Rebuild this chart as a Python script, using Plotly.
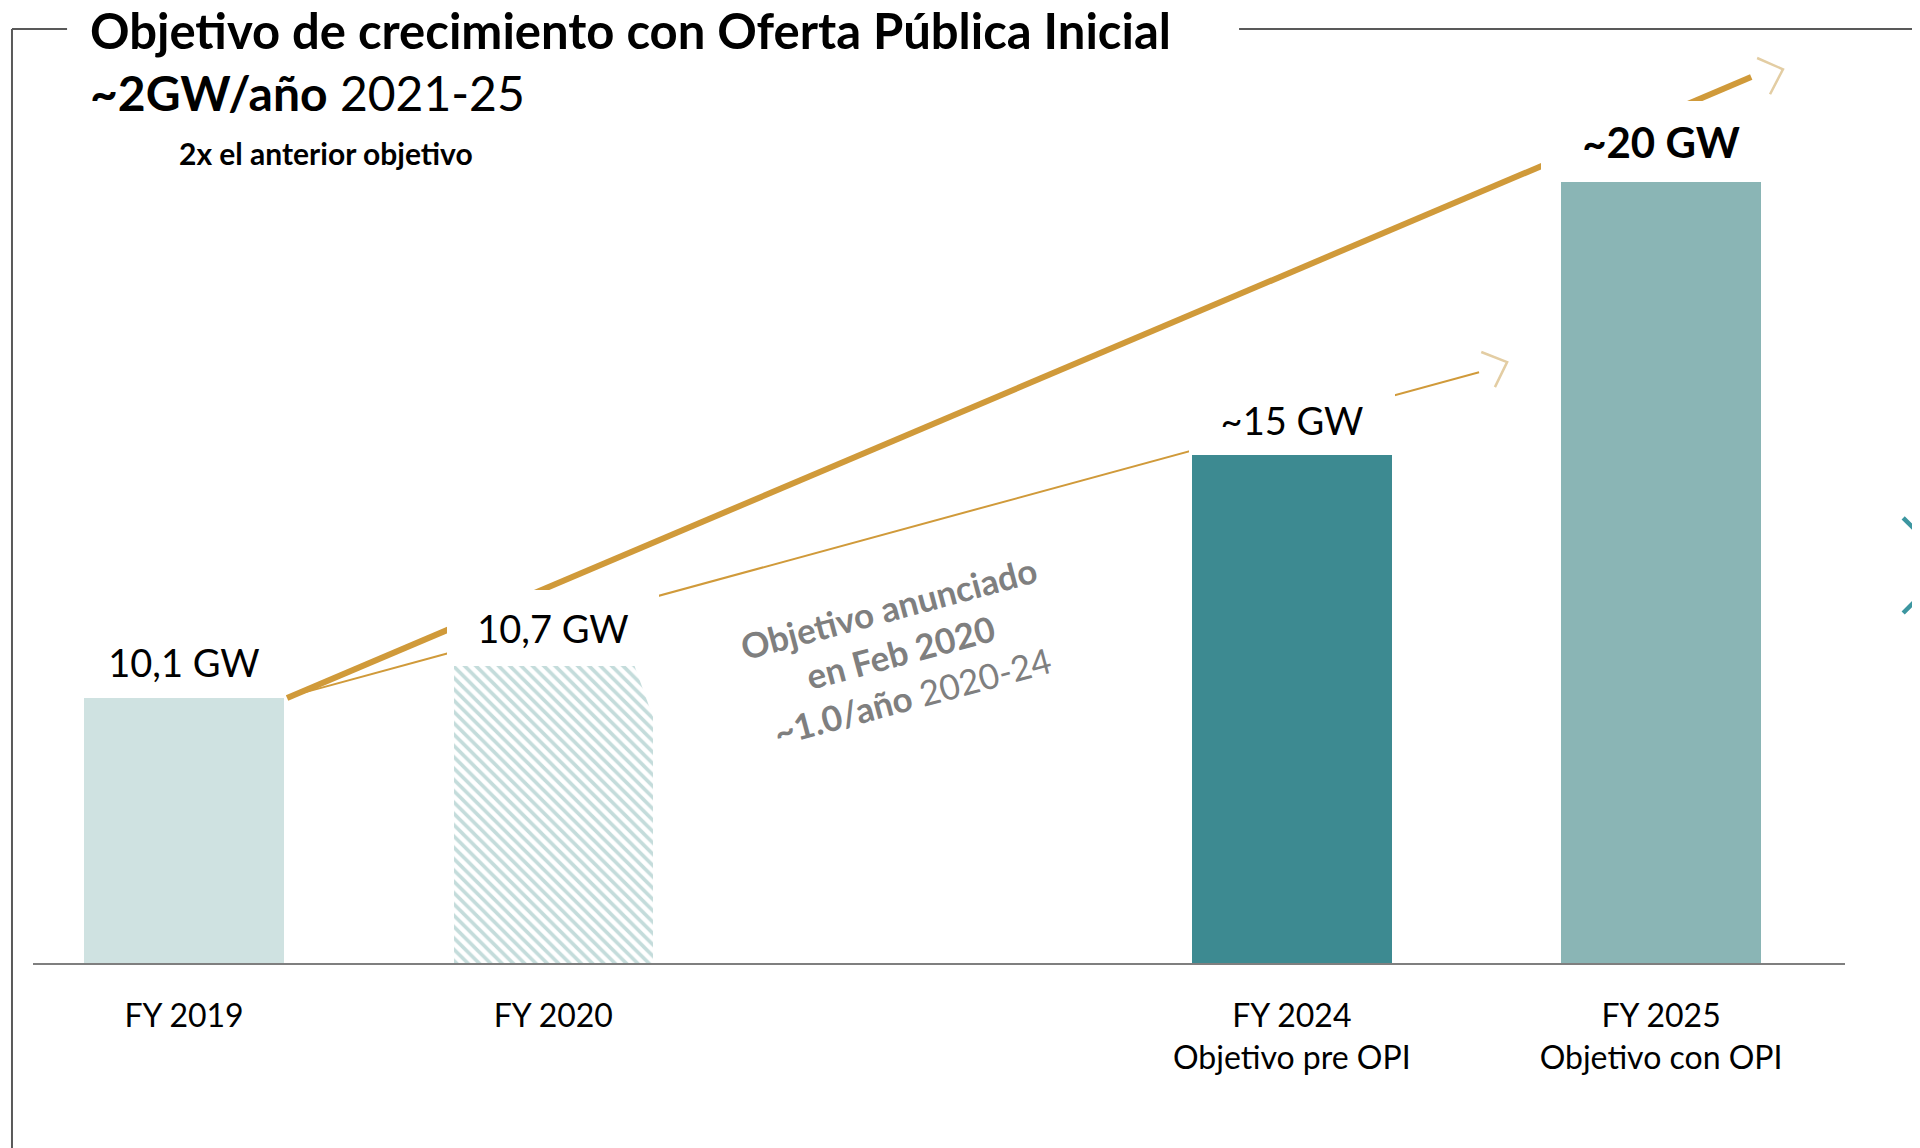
import plotly.graph_objects as go

# ---------------- data ----------------
categories = ["FY 2019", "FY 2020", "FY 2024<br>Objetivo pre OPI", "FY 2025<br>Objetivo con OPI"]
slots = [0, 1, 3, 4]                       # empty slot between FY 2020 and FY 2024
bar_heights = [6.79, 7.61, 13.01, 20.0]    # drawn (visual) heights
value_labels = ["10,1 GW", "10,7 GW", "~15 GW", "<b>~20 GW</b>"]
label_sizes = [38, 38, 38, 42]
bar_colors = ["#CFE2E1", "#C4DCDB", "#3D8A91", "#8AB5B5"]
hatched = [False, True, False, False]

# growth trend arrows (data units of the chart)
ipo_line_x = [0.279, 4.244]
ipo_line_y = [6.79, 22.69]
pre_line_x = [0.279, 3.507]
pre_line_y = [6.81, 15.13]
ipo_head_x = [4.260, 4.330, 4.295]
ipo_head_y = [23.18, 22.89, 22.25]
pre_head_x = [3.513, 3.583, 3.550]
pre_head_y = [15.65, 15.39, 14.75]

# ---------------- style ----------------
FONT = "Lato"
GOLD = "#D09A3A"
TAN = "#E3CDA3"
BAR_W = 0.54
label_box_w = [180, 212, 206, 240]
label_box_h = [72, 76, 70, 81]

fig = go.Figure()

# trend lines (drawn below label boxes)
fig.add_trace(go.Scatter(x=ipo_line_x, y=ipo_line_y, mode="lines",
                         line=dict(color=GOLD, width=6), hoverinfo="skip", showlegend=False))
fig.add_trace(go.Scatter(x=pre_line_x, y=pre_line_y, mode="lines",
                         line=dict(color=GOLD, width=2), hoverinfo="skip", showlegend=False))
fig.add_trace(go.Scatter(x=ipo_head_x, y=ipo_head_y, mode="lines",
                         line=dict(color=TAN, width=2.5), hoverinfo="skip", showlegend=False))
fig.add_trace(go.Scatter(x=pre_head_x, y=pre_head_y, mode="lines",
                         line=dict(color=TAN, width=2.5), hoverinfo="skip", showlegend=False))

# bars: solid ones, then the hatched one
solid_x = [s for s, h in zip(slots, hatched) if not h]
solid_y = [v for v, h in zip(bar_heights, hatched) if not h]
solid_c = [c for c, h in zip(bar_colors, hatched) if not h]
hatch_x = [s for s, h in zip(slots, hatched) if h]
hatch_y = [v for v, h in zip(bar_heights, hatched) if h]
hatch_c = [c for c, h in zip(bar_colors, hatched) if h]

fig.add_trace(go.Bar(x=solid_x, y=solid_y, width=BAR_W,
                     marker=dict(color=solid_c, line=dict(width=0)),
                     hoverinfo="skip", showlegend=False))
fig.add_trace(go.Bar(x=hatch_x, y=hatch_y, width=BAR_W,
                     marker=dict(color=hatch_c[0], line=dict(width=0),
                                 pattern=dict(shape="\\", fillmode="replace",
                                              fgcolor=hatch_c[0], bgcolor="#FFFFFF",
                                              size=8, solidity=0.45)),
                     hoverinfo="skip", showlegend=False))

# value labels with white boxes (they interrupt the trend lines)
for s, h, t, w, bh, fs in zip(slots, bar_heights, value_labels, label_box_w, label_box_h, label_sizes):
    fig.add_annotation(x=s, y=h, xref="x", yref="y", text=t, showarrow=False,
                       xanchor="center", yanchor="bottom", width=w, height=bh,
                       bgcolor="#FFFFFF", borderpad=0, borderwidth=0,
                       font=dict(family=FONT, size=fs, color="#000000"))

# cut corner on the FY 2020 bar
i20 = hatched.index(True)
xr = slots[i20] + BAR_W / 2
top = bar_heights[i20]
fig.add_shape(type="path", xref="x", yref="y", layer="above",
              path=f"M {xr-0.05} {top} L {xr+0.01} {top} L {xr+0.01} {top-1.57} Z",
              fillcolor="#FFFFFF", line=dict(width=0))

# rotated note
fig.add_annotation(x=1.94, y=7.98, xref="x", yref="y", showarrow=False, textangle=-15,
                   text="<b>Objetivo anunciado</b><br><b>en Feb 2020</b><br><b>~1.0/año</b> 2020-24",
                   align="center", xanchor="center", yanchor="middle",
                   font=dict(family=FONT, size=35, color="#7F7F7F"))

# titles
fig.add_annotation(x=0.0304, y=0.977, xref="paper", yref="paper", showarrow=False,
                   xanchor="left", yanchor="middle",
                   text="<b>Objetivo de crecimiento con Oferta Pública Inicial</b>",
                   font=dict(family=FONT, size=49, color="#000000"))
fig.add_annotation(x=0.0304, y=0.911, xref="paper", yref="paper", showarrow=False,
                   xanchor="left", yanchor="middle",
                   text="<b>~2GW/año</b> 2021-25",
                   font=dict(family=FONT, size=48, color="#000000"))
fig.add_annotation(x=0.0795, y=0.848, xref="paper", yref="paper", showarrow=False,
                   xanchor="left", yanchor="middle",
                   text="<b>2x el anterior objetivo</b>",
                   font=dict(family=FONT, size=30, color="#000000"))

# frame lines
FRAME = "#595959"
fig.add_shape(type="line", xref="paper", yref="paper", x0=-0.0116, x1=0.0188, y0=0.978, y1=0.978,
              line=dict(color=FRAME, width=2))
fig.add_shape(type="line", xref="paper", yref="paper", x0=0.6656, x1=1.05, y0=0.978, y1=0.978,
              line=dict(color=FRAME, width=2))
fig.add_shape(type="line", xref="paper", yref="paper", x0=-0.0116, x1=-0.0116, y0=0.978, y1=-0.25,
              line=dict(color=FRAME, width=2))
# slide navigation chevron at the right edge
fig.add_shape(type="path", xref="paper", yref="paper",
              path="M 1.0321 0.466 L 1.0585 0.4168 L 1.0321 0.3665",
              line=dict(color="#3C96A0", width=4.5))

fig.update_layout(
    width=1912, height=1140,
    margin=dict(l=25, r=75, t=0, b=185),
    paper_bgcolor="#FFFFFF", plot_bgcolor="#FFFFFF",
    barmode="overlay", bargap=0, showlegend=False,
    xaxis=dict(range=[-0.409, 4.498], tickvals=slots, ticktext=categories,
               showline=True, linecolor="#7F7F7F", linewidth=2, showgrid=False,
               zeroline=False, ticks="", ticklabelstandoff=24, automargin=False,
               tickfont=dict(family=FONT, size=32, color="#000000")),
    yaxis=dict(range=[0, 24.46], visible=False, showgrid=False, zeroline=False,
               automargin=False),
)

fig.write_html("out.html")
